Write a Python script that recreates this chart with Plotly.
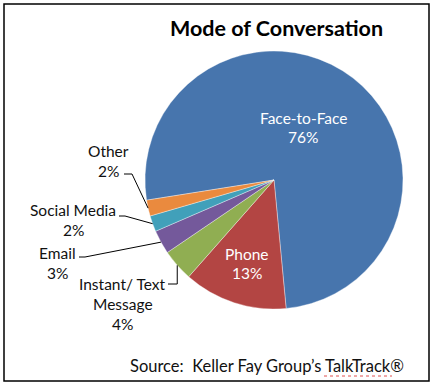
import math
import plotly.graph_objects as go

# ---- data ----
categories = ["Face-to-Face", "Phone", "Instant/ Text Message", "Email", "Social Media", "Other"]
shares = [76, 13, 4, 3, 2, 2]
label_lines = [["Face-to-Face", "76%"], ["Phone", "13%"], ["Instant/ Text", "Message", "4%"],
               ["Email", "3%"], ["Social Media", "2%"], ["Other", "2%"]]
colors = ["#4775AD", "#B34543", "#90AE52", "#74599B", "#41A0BA", "#EA8A3E"]

W, H = 437, 387
CX, CY, R = 274, 180, 129
ROT = 261
FONT = "Lato, 'Open Sans', sans-serif"


def px(x):
    return x / W


def py(y):
    return 1 - y / H


fig = go.Figure(go.Pie(
    labels=categories, values=shares, sort=False, direction="clockwise", rotation=ROT,
    marker=dict(colors=colors, line=dict(color="rgba(255,255,255,0.6)", width=0.6)),
    textinfo="none", hoverinfo="label+percent", showlegend=False,
    domain=dict(x=[px(CX - R), px(CX + R)], y=[py(CY + R), py(CY - R)]),
))

# slice mid-angles (clockwise from 12 o'clock) from the data
total = sum(shares)
mids = []
acc = ROT
for v in shares:
    span = 360 * v / total
    mids.append(acc + span / 2)
    acc += span


def edge(i, rr=1.0):
    a = math.radians(mids[i])
    return CX + R * rr * math.sin(a), CY - R * rr * math.cos(a)


ann = []


def add_text(x, y, s, color="#111111", size=15.5):
    ann.append(dict(x=px(x), y=py(y), xref="paper", yref="paper", text=s, showarrow=False,
                    xanchor="center", yanchor="middle", font=dict(family=FONT, size=size, color=color)))


# inside labels
inside_pos = {0: (303, 118), 1: (247, 254)}
for i, (x, y) in inside_pos.items():
    for k, s in enumerate(label_lines[i]):
        add_text(x, y + 19 * k, s, color="white")

# outside labels
outside_pos = {5: (108, 151), 4: (73, 210), 3: (58, 253), 2: (123, 284)}
for i, (x, y) in outside_pos.items():
    for k, s in enumerate(label_lines[i]):
        add_text(x, y + 20 * k, s)

# title and source
ann.append(dict(x=px(276.5), y=py(28), xref="paper", yref="paper", text="<b>Mode of Conversation</b>",
                showarrow=False, xanchor="center", yanchor="middle",
                font=dict(family=FONT, size=21.5, color="#000000")))
ann.append(dict(x=px(128), y=py(366), xref="paper", yref="paper",
                text="Source:\u00a0 Keller Fay Group\u2019s TalkTrack\u00ae",
                showarrow=False, xanchor="left", yanchor="middle",
                font=dict(family=FONT, size=16.5, color="#111111")))

shapes = [dict(type="rect", xref="paper", yref="paper", x0=px(4), x1=px(429), y0=py(381), y1=py(4),
               line=dict(color="black", width=1.5))]
# spell-check squiggle under "TalkTrack"
shapes.append(dict(type="line", xref="paper", yref="paper", x0=px(324), x1=px(392), y0=py(376), y1=py(376),
                   line=dict(color="#E05050", width=1, dash="dot")))


def seg(x0, y0, x1, y1):
    shapes.append(dict(type="line", xref="paper", yref="paper", x0=px(x0), y0=py(y0), x1=px(x1), y1=py(y1),
                       line=dict(color="black", width=1)))


# leader lines
ex, ey = edge(5)
seg(124, 174, 132, 174); seg(132, 174, ex, ey)
ex, ey = edge(4)
seg(119, 216, 125, 216); seg(125, 216, ex, ey)
ex, ey = edge(3)
seg(79, 257, 85, 257); seg(85, 257, ex, ey)
ex, ey = edge(2)
seg(168, 284, ex, 284); seg(ex, 284, ex, ey)

fig.update_layout(width=W, height=H, margin=dict(l=0, r=0, t=0, b=0),
                  paper_bgcolor="white", plot_bgcolor="white",
                  annotations=ann, shapes=shapes)
fig.write_html("out.html")
